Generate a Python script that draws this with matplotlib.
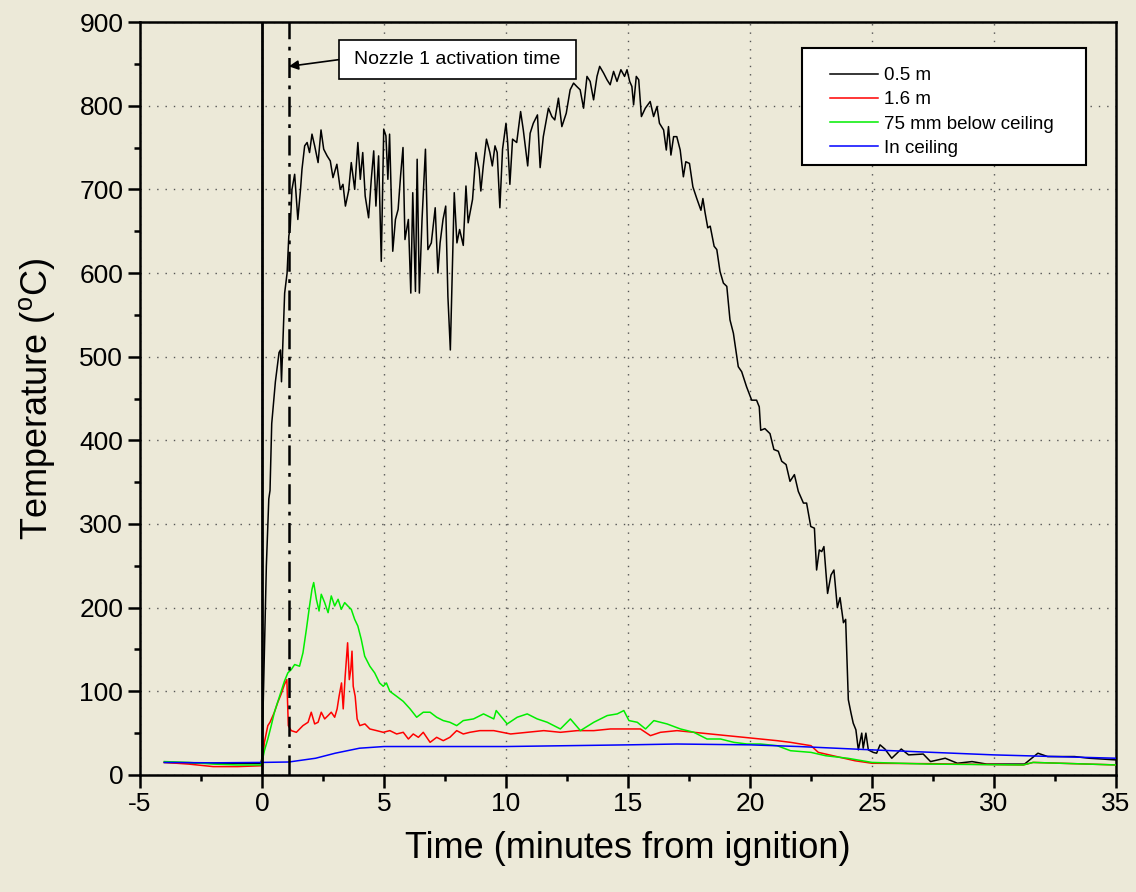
import matplotlib

matplotlib.use("Agg")
import matplotlib.pyplot as plt
from matplotlib.patches import Rectangle
from matplotlib.ticker import MultipleLocator

BG = "#ece9d8"

# 0.5 m thermocouple
time_05m = [-4.0, -2.0, -0.05, 0.0, 0.08, 0.18, 0.28, 0.33, 0.4, 0.55, 0.7, 0.76, 0.8, 0.93,
            1.03, 1.1, 1.16, 1.23, 1.34, 1.47, 1.58, 1.64, 1.75, 1.85, 1.95, 2.05, 2.16, 2.3,
            2.42, 2.53, 2.67, 2.8, 2.91, 3.07, 3.21, 3.32, 3.42, 3.55, 3.66, 3.8, 3.93, 4.03,
            4.13, 4.23, 4.37, 4.48, 4.58, 4.67, 4.78, 4.89, 4.99, 5.08, 5.16, 5.23, 5.36, 5.47,
            5.58, 5.68, 5.78, 5.86, 6.0, 6.1, 6.18, 6.29, 6.36, 6.45, 6.56, 6.7, 6.8, 6.94,
            7.1, 7.21, 7.3, 7.42, 7.53, 7.62, 7.72, 7.78, 7.88, 7.99, 8.1, 8.25, 8.36, 8.45,
            8.63, 8.77, 8.9, 8.97, 9.07, 9.2, 9.34, 9.44, 9.55, 9.64, 9.75, 9.86, 10.0, 10.07,
            10.16, 10.27, 10.44, 10.6, 10.71, 10.89, 10.99, 11.12, 11.29, 11.4, 11.53, 11.74,
            11.88, 12.0, 12.15, 12.29, 12.47, 12.63, 12.77, 12.9, 13.04, 13.18, 13.32, 13.45,
            13.59, 13.73, 13.84, 14.0, 14.14, 14.27, 14.41, 14.55, 14.71, 14.86, 14.96, 15.07,
            15.16, 15.23, 15.34, 15.44, 15.55, 15.71, 15.91, 16.05, 16.19, 16.29, 16.46, 16.57,
            16.66, 16.76, 16.87, 17.0, 17.14, 17.27, 17.37, 17.52, 17.66, 17.82, 17.99, 18.07,
            18.16, 18.27, 18.37, 18.53, 18.64, 18.77, 18.91, 19.05, 19.18, 19.32, 19.46, 19.52,
            19.66, 19.86, 20.07, 20.27, 20.38, 20.44, 20.61, 20.82, 20.98, 21.16, 21.3, 21.48,
            21.64, 21.82, 21.98, 22.19, 22.32, 22.49, 22.64, 22.73, 22.84, 22.94, 23.03, 23.18,
            23.32, 23.44, 23.58, 23.69, 23.83, 23.92, 24.03, 24.14, 24.23, 24.34, 24.44, 24.58,
            24.64, 24.75, 24.85, 25.05, 25.19, 25.33, 25.53, 25.81, 26.2, 26.5, 27.1, 27.4,
            28.0, 28.5, 29.1, 29.7, 31.25, 31.8, 32.2, 33.3, 33.9, 35.0]
temp_05m = [15, 14, 14, 20, 120, 250, 330, 340, 420, 470, 505, 508, 470, 576,
            600, 644, 656, 700, 718, 664, 700, 724, 752, 756, 744, 766, 752, 732,
            771, 748, 740, 734, 714, 730, 700, 706, 680, 698, 732, 700, 756, 712,
            744, 692, 666, 712, 746, 680, 740, 614, 772, 764, 712, 766, 626, 664,
            676, 716, 750, 640, 664, 576, 696, 578, 736, 576, 664, 748, 628, 636,
            678, 600, 636, 664, 680, 572, 508, 580, 696, 636, 652, 633, 704, 660,
            688, 744, 724, 698, 728, 760, 744, 728, 752, 744, 678, 748, 779, 756,
            706, 760, 756, 793, 771, 728, 767, 779, 789, 726, 763, 797,
            787, 783, 809, 775, 791, 819, 827, 823, 819, 797, 835, 829,
            807, 835, 847, 839, 831, 825, 841, 829, 843, 835, 843, 829,
            823, 801, 835, 831, 787, 797, 805, 787, 799, 779, 771, 747,
            775, 741, 763, 763, 747, 715, 733, 731, 703, 689, 675, 689,
            672, 654, 656, 632, 628, 602, 588, 584, 544, 528, 500, 488,
            482, 464, 448, 448, 440, 412, 414, 408, 389, 387, 375, 371,
            351, 359, 339, 325, 325, 297, 295, 245, 269, 267, 273, 217,
            239, 245, 200, 212, 182, 186, 90, 74, 62, 54, 30, 50,
            32, 50, 30, 27, 26, 36, 31, 20, 31, 24, 25, 16,
            20, 14, 16, 13, 13, 26, 22, 22, 20, 18]

# 1.6 m thermocouple
time_16m = [-4.0, -3.0, -2.0, -1.0, -0.05, 0.0, 0.1, 0.24, 0.33, 0.51, 0.65, 0.79, 0.92, 1.02,
            1.08, 1.2, 1.41, 1.68, 1.89, 2.02, 2.16, 2.3, 2.43, 2.57, 2.71, 2.84, 2.98, 3.08,
            3.16, 3.26, 3.33, 3.41, 3.51, 3.58, 3.64, 3.69, 3.74, 3.82, 3.9, 4.01, 4.22, 4.42,
            4.7, 4.97, 5.24, 5.52, 5.79, 6.0, 6.2, 6.41, 6.61, 6.89, 7.16, 7.43, 7.7, 7.98,
            8.25, 8.52, 8.93, 9.5, 10.19, 10.87, 11.55, 12.23, 12.92, 13.6, 14.28, 14.97,
            15.51, 15.92, 16.33, 17.01, 17.7, 18.38, 19.06, 19.75, 20.43, 21.11, 21.66, 22.5,
            22.8, 23.4, 24.3, 25.0, 27.3, 31.2, 31.6, 35.0]
temp_16m = [15, 13, 10, 10, 11, 11, 39, 59, 63, 75, 87, 97, 108, 114,
            59, 53, 51, 59, 63, 75, 61, 63, 75, 67, 71, 75, 69, 79,
            94, 110, 79, 118, 158, 114, 126, 148, 106, 94, 67, 59, 61, 55,
            53, 51, 53, 49, 51, 43, 49, 45, 51, 39, 45, 41, 45, 53,
            49, 51, 53, 53, 49, 51, 53, 51, 53, 53, 55, 55,
            55, 47, 51, 53, 51, 49, 47, 45, 43, 41, 39, 35,
            27, 23, 17, 14, 13.5, 12, 15, 12]

# 75 mm below ceiling
time_75mm = [-4.0, -3.0, -2.0, -1.0, -0.05, 0.0, 0.1, 0.24, 0.38, 0.51, 0.72, 0.92, 1.06, 1.2,
             1.34, 1.54, 1.68, 1.82, 1.95, 2.05, 2.12, 2.23, 2.34, 2.43, 2.57, 2.71, 2.84,
             2.98, 3.12, 3.25, 3.39, 3.52, 3.66, 3.8, 3.93, 4.07, 4.21, 4.42, 4.62, 4.82,
             4.97, 5.1, 5.24, 5.52, 5.79, 6.07, 6.34, 6.61, 6.89, 7.16, 7.43, 7.7, 7.98,
             8.25, 8.67, 9.08, 9.5, 9.6, 10.05, 10.46, 10.87, 11.28, 11.69, 12.23, 12.64,
             13.05, 13.6, 14.15, 14.56, 14.83, 15.04, 15.38, 15.72, 16.06, 16.6, 17.15, 17.7,
             18.24, 18.79, 19.34, 19.88, 20.43, 21.11, 21.66, 22.5, 23.1, 24.0, 25.0, 27.3,
             31.2, 31.6, 35.0]
temp_75mm = [16, 15, 13, 12, 12, 15, 29, 43, 59, 75, 94, 112, 122, 126,
             132, 130, 146, 174, 202, 222, 230, 210, 196, 216, 206, 194, 214,
             202, 210, 198, 206, 202, 198, 186, 178, 162, 142, 130, 122, 110,
             106, 110, 100, 94, 88, 79, 69, 75, 75, 69, 65, 63, 59,
             65, 67, 73, 67, 77, 61, 69, 73, 67, 63, 55, 67,
             53, 63, 71, 73, 77, 65, 63, 55, 65, 61, 55, 51,
             43, 43, 39, 37, 37, 35, 29, 27, 23, 20, 15, 13,
             12, 15, 12]

# In ceiling
time_ceiling = [-4.0, -2.0, 0.0, 1.1, 2.2, 3.0, 4.0, 5.0, 10.0, 15.0, 17.0, 20.0, 22.0, 25.0,
                30.0, 35.0]
temp_ceiling = [15, 14.5, 15, 15.5, 20, 26, 32, 34, 34, 36, 37, 36, 34, 30,
                24, 20]

NOZZLE_TIME = 1.1

plt.rcParams.update({
    "font.family": ["Liberation Sans", "DejaVu Sans"],
    "figure.facecolor": BG,
    "axes.facecolor": BG,
    "axes.unicode_minus": False,
})

fig = plt.figure(figsize=(11.36, 8.92), dpi=100)
ax = fig.add_axes([0.1232, 0.1312, 0.8592, 0.8441])

ax.plot(time_05m, temp_05m, color="black", linewidth=1.1, label="0.5 m", zorder=3)
ax.plot(time_16m, temp_16m, color="#ff0000", linewidth=1.1, label="1.6 m", zorder=3)
ax.plot(time_75mm, temp_75mm, color="#00ee00", linewidth=1.1, label="75 mm below ceiling", zorder=3)
ax.plot(time_ceiling, temp_ceiling, color="#0000ff", linewidth=1.1, label="In ceiling", zorder=3)

ax.axvline(0, color="black", linewidth=2.0, zorder=4)
ax.axvline(NOZZLE_TIME, color="black", linewidth=1.8, linestyle=(0, (8, 3, 1.5, 3)), zorder=4)

# annotation box (in data units) with arrow to the activation line
ax.add_patch(Rectangle((3.14, 831.5), 9.71, 47.5, facecolor="white", edgecolor="black",
                       linewidth=1.2, zorder=6))
ax.text(7.99, 855, "Nozzle 1 activation time", ha="center", va="center", fontsize=14, zorder=7)
ax.annotate(
    "",
    xy=(NOZZLE_TIME, 847),
    xytext=(3.14, 855),
    arrowprops={"arrowstyle": "-|>", "color": "black", "linewidth": 1.2, "mutation_scale": 14,
                "shrinkA": 0, "shrinkB": 0},
    zorder=6,
)

ax.set_xlim(-5, 35)
ax.set_ylim(0, 900)
ax.xaxis.set_major_locator(MultipleLocator(5))
ax.xaxis.set_minor_locator(MultipleLocator(2.5))
ax.yaxis.set_major_locator(MultipleLocator(100))
ax.yaxis.set_minor_locator(MultipleLocator(50))
ax.tick_params(which="major", direction="out", length=9, width=1.8, labelsize=19, pad=3)
ax.tick_params(which="minor", direction="out", length=4.5, width=1.8)
for spine in ax.spines.values():
    spine.set_linewidth(1.8)

ax.grid(which="major", color="#555555", linestyle=(0, (1, 5)), linewidth=1.0, zorder=1)

ax.set_xlabel("Time (minutes from ignition)", fontsize=26, labelpad=11)
ax.set_ylabel("Temperature ($\\mathregular{^{o}}$C)", fontsize=26, labelpad=16)

# legend frame drawn separately so the padding matches the original box
ax.add_patch(Rectangle((0.6783, 0.8101), 0.291, 0.1554, transform=ax.transAxes,
                       facecolor="white", edgecolor="black", linewidth=1.5, zorder=7))
leg = ax.legend(
    loc="upper left",
    bbox_to_anchor=(0.707, 0.9403),
    borderaxespad=0,
    borderpad=0,
    fontsize=13.5,
    frameon=False,
    handlelength=2.56,
    handletextpad=0.3,
    labelspacing=0.38,
)
leg.set_zorder(8)

fig.savefig("out.png", dpi=100, facecolor=BG)
